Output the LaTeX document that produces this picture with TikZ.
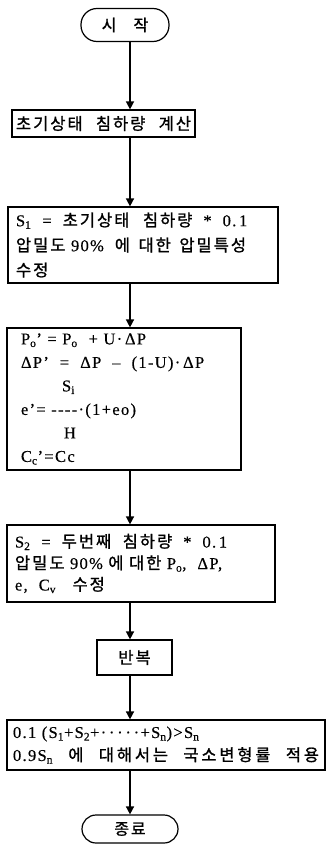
\documentclass[tikz,border=0pt]{standalone}
\usepackage{fontspec}
\setmainfont{Liberation Serif}[LetterSpace=8, WordSpace=2.2, FakeBold=0.4]
\newfontfamily\krfont[LetterSpace=12, WordSpace=2, FakeBold=1.2]{Noto Sans CJK KR}
\newfontfamily\krwide[LetterSpace=17, WordSpace=2, FakeBold=1.2]{Noto Sans CJK KR}
\newcommand{\kr}[1]{{\krfont #1}}
\newcommand{\krw}[1]{{\krwide #1}}
\usetikzlibrary{arrows.meta, positioning, calc}
\tikzset{
  box/.style={rectangle, draw=black, line width=1.2pt, inner sep=0pt,
    font=\fontsize{16.5}{23}\selectfont, align=left},
  term/.style={rectangle, draw=black, line width=1.2pt, inner sep=0pt,
    font=\fontsize{16}{18}\selectfont, align=center},
  arr/.style={-{Triangle[width=8pt,length=8pt]}, line width=1.5pt},
}
\begin{document}
\begin{tikzpicture}[x=1pt, y=1pt]
  \useasboundingbox (0,0) rectangle (328,-845);
  \coordinate (spine) at (130,0);
  % terminals
  \node[term, rounded corners=16pt, minimum width=88pt, minimum height=33pt]
    (start) at (125,-25) {\kr{시\hspace{6pt} 작}};
  \node[term, rounded corners=14pt, minimum width=96pt, minimum height=28pt]
    (stop) at (130,-829) {\kr{종료}};
  % process boxes
  \node[box, minimum width=183pt, minimum height=27pt, align=center]
    (init) at (103.5,-123.5)
    {\makebox[175pt][s]{\kr{초기상태 침하량 계산}}};
  \node[box, minimum width=270pt, minimum height=76pt, text width=254pt,
        font=\fontsize{16.5}{25}\selectfont]
    (first) at (143,-245)
    {S\textsubscript{1} \ = \ \kr{초기상태\hspace{8pt} 침하량} \ * \ 0.\,1\\
     \kr{압밀도} 90\% \ \kr{에\hspace{3pt} 대한\hspace{3pt} 압밀특성}\\
     \kr{수정}};
  \node[box, minimum width=234pt, minimum height=142pt, text width=206pt,
        font=\fontsize{16.5}{23.5}\selectfont]
    (upd) at (124,-399)
    {P\textsubscript{o}' = P\textsubscript{o} \ + U·\,ΔP\\
     ΔP' \ = \ ΔP \ -- \ (1-U)·\,ΔP\\
     \hspace{41pt}S\textsubscript{i}\\
     e'= {-}{-}{-}{-}·(1+eo)\\
     \hspace{43pt}H\\
     C\textsubscript{c}'=Cc};
  \node[box, minimum width=268pt, minimum height=77pt, text width=252pt,
        font=\fontsize{16.5}{21.5}\selectfont]
    (second) at (141,-563.5)
    {S\textsubscript{2} \ = \ \kr{두번째\hspace{6pt} 침하량} \ * \ 0.\,1\\
     \kr{압밀도} 90\% \kr{에 대한} P\textsubscript{o}, \ ΔP,\\
     e, \ C\textsubscript{v}\ \ \ \kr{수정}};
  \node[box, minimum width=75pt, minimum height=35pt, align=center]
    (rep) at (134.5,-657.5) {\kr{반복}};
  \node[box, minimum width=318pt, minimum height=50pt, text width=306pt,
        font=\fontsize{16.5}{23}\selectfont]
    (check) at (166,-745)
    {0.1 (S\textsubscript{1}+S\textsubscript{2}+·\,·\,·\,·\,·+S\textsubscript{n})>S\textsubscript{n}\\
     \makebox[306pt][s]{0.9S\textsubscript{n}\hfill\krw{에}\hfill\krw{대해서는}\hfill
       \krw{국소변형률}\hfill\krw{적용}}};
  % connectors
  \foreach \a/\b in {start/init, init/first, first/upd, upd/second,
                     second/rep, rep/check, check/stop}
    \draw[arr] (spine |- \a.south) -- (spine |- \b.north);
\end{tikzpicture}
\end{document}
